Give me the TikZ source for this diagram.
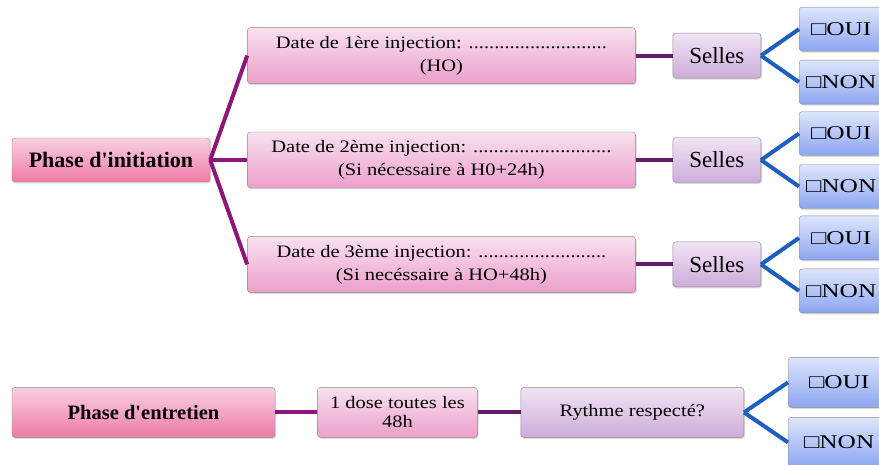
\documentclass[tikz,border=0pt]{standalone}
\usepackage{fontspec}
\setmainfont{Liberation Serif}
\newfontfamily\etire{Liberation Serif}[FakeStretch=1.17]
\newfontfamily\etireplus{Liberation Serif}[FakeStretch=1.3]
\usepackage{xcolor}
\usetikzlibrary{positioning, shadows}

\definecolor{rosehaut}{RGB}{248,208,226}
\definecolor{rosebas}{RGB}{238,122,168}
\definecolor{injhaut}{RGB}{248,224,240}
\definecolor{injbas}{RGB}{236,160,202}
\definecolor{lavhaut}{RGB}{240,228,244}
\definecolor{lavbas}{RGB}{205,172,218}
\definecolor{bleuhaut}{RGB}{222,230,252}
\definecolor{bleubas}{RGB}{140,165,240}
\definecolor{violetbranche}{RGB}{140,22,122}
\definecolor{violetlien}{RGB}{96,28,102}
\definecolor{bleulien}{RGB}{30,95,190}

\begin{document}
\begin{tikzpicture}[x=1pt, y=1pt,
  boite/.style={draw=black!45, rounded corners=3pt, align=center, inner sep=0pt,
    drop shadow={opacity=0.3, shadow xshift=1.2pt, shadow yshift=-1.5pt}},
  phase/.style={boite, top color=rosehaut, bottom color=rosebas,
    font=\fontsize{22}{24}\selectfont\bfseries},
  injection/.style={boite, top color=injhaut, bottom color=injbas,
    minimum width=388pt, minimum height=56pt, font=\etire\fontsize{17.5}{23}\selectfont},
  selles/.style={boite, top color=lavhaut, bottom color=lavbas,
    minimum width=88pt, minimum height=45pt, font=\fontsize{23}{24}\selectfont},
  reponse/.style={boite, top color=bleuhaut, bottom color=bleubas,
    minimum width=84pt, minimum height=44pt, font=\etireplus\fontsize{19.5}{22}\selectfont},
  branche/.style={line width=4pt, violetbranche},
  lien/.style={line width=4pt, violetlien},
  choix/.style={line width=4pt, bleulien}]
\clip (0,0) rectangle (879,465);

\node[phase, minimum width=198pt, minimum height=44pt] (initiation) at (111,305) {Phase d\textquotesingle initiation};
\node[injection, right=37pt of initiation] (inj2) {Date de 2ème injection: ...........................\\(Si nécessaire à H0+24h)};
\node[injection, above=48pt of inj2] (inj1) {Date de 1ère injection: ...........................\\(HO)};
\node[injection, below=48pt of inj2] (inj3) {Date de 3ème injection: .........................\\(Si necéssaire à HO+48h)};

\node[selles, right=37pt of inj1] (selles1) {Selles};
\node[selles, right=37pt of inj2] (selles2) {Selles};
\node[selles, right=37pt of inj3] (selles3) {Selles};

\node[reponse, right=38pt of selles1, yshift=26.5pt] (oui1) {□OUI};
\node[reponse, right=38pt of selles1, yshift=-26.5pt] (non1) {□NON};
\node[reponse, right=38pt of selles2, yshift=26.5pt] (oui2) {□OUI};
\node[reponse, right=38pt of selles2, yshift=-26.5pt] (non2) {□NON};
\node[reponse, right=38pt of selles3, yshift=26.5pt] (oui3) {□OUI};
\node[reponse, right=38pt of selles3, yshift=-26.5pt] (non3) {□NON};

\node[phase, minimum width=263pt, minimum height=50pt, font=\fontsize{20.5}{24}\selectfont\bfseries, below=205pt of initiation.south west, anchor=north west] (entretien) {Phase d\textquotesingle entretien};
\node[injection, minimum width=160pt, minimum height=50pt, font=\etire\fontsize{17.5}{19}\selectfont, right=42pt of entretien] (dose) {1 dose toutes les\\48h};
\node[selles, minimum width=223pt, minimum height=50pt, font=\etire\fontsize{17.5}{22}\selectfont, right=43pt of dose] (rythme) {Rythme respecté?};
\node[reponse, minimum width=102pt, minimum height=50pt, right=44pt of rythme, yshift=30pt] (oui4) {□OUI};
\node[reponse, minimum width=102pt, minimum height=50pt, right=44pt of rythme, yshift=-30pt] (non4) {□NON};

\draw[branche] (initiation.east) -- (inj1.west);
\draw[branche] (initiation.east) -- (inj2.west);
\draw[branche] (initiation.east) -- (inj3.west);
\draw[lien] (inj1) -- (selles1);
\draw[lien] (inj2) -- (selles2);
\draw[lien] (inj3) -- (selles3);
\draw[choix] (selles1.east) -- (oui1.west);
\draw[choix] (selles1.east) -- (non1.west);
\draw[choix] (selles2.east) -- (oui2.west);
\draw[choix] (selles2.east) -- (non2.west);
\draw[choix] (selles3.east) -- (oui3.west);
\draw[choix] (selles3.east) -- (non3.west);

\draw[branche] (entretien) -- (dose);
\draw[lien] (dose) -- (rythme);
\draw[choix] (rythme.east) -- (oui4.west);
\draw[choix] (rythme.east) -- (non4.west);
\end{tikzpicture}
\end{document}
